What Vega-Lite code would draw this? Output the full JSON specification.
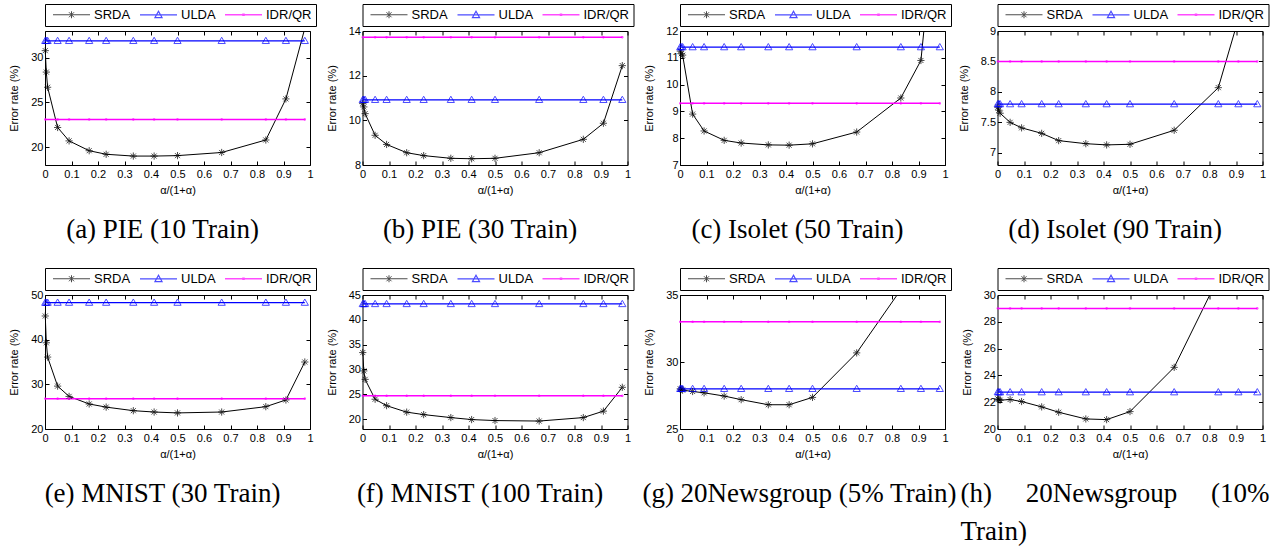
{
"$schema": "https://vega.github.io/schema/vega-lite/v6.json",
"padding": {"left": 8, "top": 3, "right": 0, "bottom": 0},
"background": "white",
"datasets": {
"A": [
{"x":0.001,"v":30.8,"s":"SRDA"},{"x":0.005,"v":28.4,"s":"SRDA"},{"x":0.0099,"v":26.7,"s":"SRDA"},{"x":0.0476,"v":22.2,"s":"SRDA"},{"x":0.0909,"v":20.7,"s":"SRDA"},{"x":0.1667,"v":19.6,"s":"SRDA"},{"x":0.2308,"v":19.2,"s":"SRDA"},{"x":0.3333,"v":19.0,"s":"SRDA"},{"x":0.4118,"v":19.0,"s":"SRDA"},{"x":0.5,"v":19.05,"s":"SRDA"},{"x":0.6667,"v":19.4,"s":"SRDA"},{"x":0.8333,"v":20.8,"s":"SRDA"},{"x":0.9091,"v":25.4,"s":"SRDA"},{"x":0.9804,"v":33.3,"s":"SRDA"},
{"x":0.001,"v":31.9,"s":"ULDA"},{"x":0.005,"v":31.9,"s":"ULDA"},{"x":0.0099,"v":31.9,"s":"ULDA"},{"x":0.0476,"v":31.9,"s":"ULDA"},{"x":0.0909,"v":31.9,"s":"ULDA"},{"x":0.1667,"v":31.9,"s":"ULDA"},{"x":0.2308,"v":31.9,"s":"ULDA"},{"x":0.3333,"v":31.9,"s":"ULDA"},{"x":0.4118,"v":31.9,"s":"ULDA"},{"x":0.5,"v":31.9,"s":"ULDA"},{"x":0.6667,"v":31.9,"s":"ULDA"},{"x":0.8333,"v":31.9,"s":"ULDA"},{"x":0.9091,"v":31.9,"s":"ULDA"},{"x":0.9804,"v":31.9,"s":"ULDA"},
{"x":0.001,"v":23.1,"s":"IDR/QR"},{"x":0.0476,"v":23.1,"s":"IDR/QR"},{"x":0.0909,"v":23.1,"s":"IDR/QR"},{"x":0.1667,"v":23.1,"s":"IDR/QR"},{"x":0.2308,"v":23.1,"s":"IDR/QR"},{"x":0.3333,"v":23.1,"s":"IDR/QR"},{"x":0.4118,"v":23.1,"s":"IDR/QR"},{"x":0.5,"v":23.1,"s":"IDR/QR"},{"x":0.6667,"v":23.1,"s":"IDR/QR"},{"x":0.8333,"v":23.1,"s":"IDR/QR"},{"x":0.9091,"v":23.1,"s":"IDR/QR"},{"x":0.9804,"v":23.1,"s":"IDR/QR"}
],
"B": [
{"x":0.001,"v":10.75,"s":"SRDA"},{"x":0.005,"v":10.6,"s":"SRDA"},{"x":0.0099,"v":10.3,"s":"SRDA"},{"x":0.0476,"v":9.33,"s":"SRDA"},{"x":0.0909,"v":8.92,"s":"SRDA"},{"x":0.1667,"v":8.55,"s":"SRDA"},{"x":0.2308,"v":8.42,"s":"SRDA"},{"x":0.3333,"v":8.3,"s":"SRDA"},{"x":0.4118,"v":8.28,"s":"SRDA"},{"x":0.5,"v":8.3,"s":"SRDA"},{"x":0.6667,"v":8.55,"s":"SRDA"},{"x":0.8333,"v":9.15,"s":"SRDA"},{"x":0.9091,"v":9.87,"s":"SRDA"},{"x":0.9804,"v":12.45,"s":"SRDA"},
{"x":0.001,"v":10.92,"s":"ULDA"},{"x":0.005,"v":10.92,"s":"ULDA"},{"x":0.0099,"v":10.92,"s":"ULDA"},{"x":0.0476,"v":10.92,"s":"ULDA"},{"x":0.0909,"v":10.92,"s":"ULDA"},{"x":0.1667,"v":10.92,"s":"ULDA"},{"x":0.2308,"v":10.92,"s":"ULDA"},{"x":0.3333,"v":10.92,"s":"ULDA"},{"x":0.4118,"v":10.92,"s":"ULDA"},{"x":0.5,"v":10.92,"s":"ULDA"},{"x":0.6667,"v":10.92,"s":"ULDA"},{"x":0.8333,"v":10.92,"s":"ULDA"},{"x":0.9091,"v":10.92,"s":"ULDA"},{"x":0.9804,"v":10.92,"s":"ULDA"},
{"x":0.001,"v":13.72,"s":"IDR/QR"},{"x":0.0476,"v":13.72,"s":"IDR/QR"},{"x":0.0909,"v":13.72,"s":"IDR/QR"},{"x":0.1667,"v":13.72,"s":"IDR/QR"},{"x":0.2308,"v":13.72,"s":"IDR/QR"},{"x":0.3333,"v":13.72,"s":"IDR/QR"},{"x":0.4118,"v":13.72,"s":"IDR/QR"},{"x":0.5,"v":13.72,"s":"IDR/QR"},{"x":0.6667,"v":13.72,"s":"IDR/QR"},{"x":0.8333,"v":13.72,"s":"IDR/QR"},{"x":0.9091,"v":13.72,"s":"IDR/QR"},{"x":0.9804,"v":13.72,"s":"IDR/QR"}
],
"C": [
{"x":0.001,"v":11.25,"s":"SRDA"},{"x":0.005,"v":11.15,"s":"SRDA"},{"x":0.0099,"v":11.1,"s":"SRDA"},{"x":0.0476,"v":8.9,"s":"SRDA"},{"x":0.0909,"v":8.27,"s":"SRDA"},{"x":0.1667,"v":7.92,"s":"SRDA"},{"x":0.2308,"v":7.82,"s":"SRDA"},{"x":0.3333,"v":7.75,"s":"SRDA"},{"x":0.4118,"v":7.74,"s":"SRDA"},{"x":0.5,"v":7.79,"s":"SRDA"},{"x":0.6667,"v":8.23,"s":"SRDA"},{"x":0.8333,"v":9.5,"s":"SRDA"},{"x":0.9091,"v":10.9,"s":"SRDA"},{"x":0.9804,"v":18.0,"s":"SRDA"},
{"x":0.001,"v":11.4,"s":"ULDA"},{"x":0.005,"v":11.4,"s":"ULDA"},{"x":0.0099,"v":11.4,"s":"ULDA"},{"x":0.0476,"v":11.4,"s":"ULDA"},{"x":0.0909,"v":11.4,"s":"ULDA"},{"x":0.1667,"v":11.4,"s":"ULDA"},{"x":0.2308,"v":11.4,"s":"ULDA"},{"x":0.3333,"v":11.4,"s":"ULDA"},{"x":0.4118,"v":11.4,"s":"ULDA"},{"x":0.5,"v":11.4,"s":"ULDA"},{"x":0.6667,"v":11.4,"s":"ULDA"},{"x":0.8333,"v":11.4,"s":"ULDA"},{"x":0.9091,"v":11.4,"s":"ULDA"},{"x":0.9804,"v":11.4,"s":"ULDA"},
{"x":0.001,"v":9.3,"s":"IDR/QR"},{"x":0.0476,"v":9.3,"s":"IDR/QR"},{"x":0.0909,"v":9.3,"s":"IDR/QR"},{"x":0.1667,"v":9.3,"s":"IDR/QR"},{"x":0.2308,"v":9.3,"s":"IDR/QR"},{"x":0.3333,"v":9.3,"s":"IDR/QR"},{"x":0.4118,"v":9.3,"s":"IDR/QR"},{"x":0.5,"v":9.3,"s":"IDR/QR"},{"x":0.6667,"v":9.3,"s":"IDR/QR"},{"x":0.8333,"v":9.3,"s":"IDR/QR"},{"x":0.9091,"v":9.3,"s":"IDR/QR"},{"x":0.9804,"v":9.3,"s":"IDR/QR"}
],
"D": [
{"x":0.001,"v":7.75,"s":"SRDA"},{"x":0.005,"v":7.7,"s":"SRDA"},{"x":0.0099,"v":7.65,"s":"SRDA"},{"x":0.0476,"v":7.5,"s":"SRDA"},{"x":0.0909,"v":7.41,"s":"SRDA"},{"x":0.1667,"v":7.32,"s":"SRDA"},{"x":0.2308,"v":7.2,"s":"SRDA"},{"x":0.3333,"v":7.15,"s":"SRDA"},{"x":0.4118,"v":7.13,"s":"SRDA"},{"x":0.5,"v":7.14,"s":"SRDA"},{"x":0.6667,"v":7.37,"s":"SRDA"},{"x":0.8333,"v":8.07,"s":"SRDA"},{"x":0.9091,"v":9.2,"s":"SRDA"},{"x":0.9804,"v":12.0,"s":"SRDA"},
{"x":0.001,"v":7.8,"s":"ULDA"},{"x":0.005,"v":7.8,"s":"ULDA"},{"x":0.0099,"v":7.8,"s":"ULDA"},{"x":0.0476,"v":7.8,"s":"ULDA"},{"x":0.0909,"v":7.8,"s":"ULDA"},{"x":0.1667,"v":7.8,"s":"ULDA"},{"x":0.2308,"v":7.8,"s":"ULDA"},{"x":0.3333,"v":7.8,"s":"ULDA"},{"x":0.4118,"v":7.8,"s":"ULDA"},{"x":0.5,"v":7.8,"s":"ULDA"},{"x":0.6667,"v":7.8,"s":"ULDA"},{"x":0.8333,"v":7.8,"s":"ULDA"},{"x":0.9091,"v":7.8,"s":"ULDA"},{"x":0.9804,"v":7.8,"s":"ULDA"},
{"x":0.001,"v":8.5,"s":"IDR/QR"},{"x":0.0476,"v":8.5,"s":"IDR/QR"},{"x":0.0909,"v":8.5,"s":"IDR/QR"},{"x":0.1667,"v":8.5,"s":"IDR/QR"},{"x":0.2308,"v":8.5,"s":"IDR/QR"},{"x":0.3333,"v":8.5,"s":"IDR/QR"},{"x":0.4118,"v":8.5,"s":"IDR/QR"},{"x":0.5,"v":8.5,"s":"IDR/QR"},{"x":0.6667,"v":8.5,"s":"IDR/QR"},{"x":0.8333,"v":8.5,"s":"IDR/QR"},{"x":0.9091,"v":8.5,"s":"IDR/QR"},{"x":0.9804,"v":8.5,"s":"IDR/QR"}
],
"E": [
{"x":0.001,"v":45.3,"s":"SRDA"},{"x":0.005,"v":39.3,"s":"SRDA"},{"x":0.0099,"v":36.1,"s":"SRDA"},{"x":0.0476,"v":29.6,"s":"SRDA"},{"x":0.0909,"v":27.3,"s":"SRDA"},{"x":0.1667,"v":25.6,"s":"SRDA"},{"x":0.2308,"v":24.9,"s":"SRDA"},{"x":0.3333,"v":24.1,"s":"SRDA"},{"x":0.4118,"v":23.8,"s":"SRDA"},{"x":0.5,"v":23.6,"s":"SRDA"},{"x":0.6667,"v":23.8,"s":"SRDA"},{"x":0.8333,"v":25.0,"s":"SRDA"},{"x":0.9091,"v":26.5,"s":"SRDA"},{"x":0.9804,"v":35.0,"s":"SRDA"},
{"x":0.001,"v":48.3,"s":"ULDA"},{"x":0.005,"v":48.3,"s":"ULDA"},{"x":0.0099,"v":48.3,"s":"ULDA"},{"x":0.0476,"v":48.3,"s":"ULDA"},{"x":0.0909,"v":48.3,"s":"ULDA"},{"x":0.1667,"v":48.3,"s":"ULDA"},{"x":0.2308,"v":48.3,"s":"ULDA"},{"x":0.3333,"v":48.3,"s":"ULDA"},{"x":0.4118,"v":48.3,"s":"ULDA"},{"x":0.5,"v":48.3,"s":"ULDA"},{"x":0.6667,"v":48.3,"s":"ULDA"},{"x":0.8333,"v":48.3,"s":"ULDA"},{"x":0.9091,"v":48.3,"s":"ULDA"},{"x":0.9804,"v":48.3,"s":"ULDA"},
{"x":0.001,"v":26.8,"s":"IDR/QR"},{"x":0.0476,"v":26.8,"s":"IDR/QR"},{"x":0.0909,"v":26.8,"s":"IDR/QR"},{"x":0.1667,"v":26.8,"s":"IDR/QR"},{"x":0.2308,"v":26.8,"s":"IDR/QR"},{"x":0.3333,"v":26.8,"s":"IDR/QR"},{"x":0.4118,"v":26.8,"s":"IDR/QR"},{"x":0.5,"v":26.8,"s":"IDR/QR"},{"x":0.6667,"v":26.8,"s":"IDR/QR"},{"x":0.8333,"v":26.8,"s":"IDR/QR"},{"x":0.9091,"v":26.8,"s":"IDR/QR"},{"x":0.9804,"v":26.8,"s":"IDR/QR"}
],
"F": [
{"x":0.001,"v":33.4,"s":"SRDA"},{"x":0.005,"v":29.7,"s":"SRDA"},{"x":0.0099,"v":28.0,"s":"SRDA"},{"x":0.0476,"v":24.0,"s":"SRDA"},{"x":0.0909,"v":22.7,"s":"SRDA"},{"x":0.1667,"v":21.4,"s":"SRDA"},{"x":0.2308,"v":20.9,"s":"SRDA"},{"x":0.3333,"v":20.3,"s":"SRDA"},{"x":0.4118,"v":19.9,"s":"SRDA"},{"x":0.5,"v":19.7,"s":"SRDA"},{"x":0.6667,"v":19.6,"s":"SRDA"},{"x":0.8333,"v":20.3,"s":"SRDA"},{"x":0.9091,"v":21.6,"s":"SRDA"},{"x":0.9804,"v":26.4,"s":"SRDA"},
{"x":0.001,"v":43.2,"s":"ULDA"},{"x":0.005,"v":43.2,"s":"ULDA"},{"x":0.0099,"v":43.2,"s":"ULDA"},{"x":0.0476,"v":43.2,"s":"ULDA"},{"x":0.0909,"v":43.2,"s":"ULDA"},{"x":0.1667,"v":43.2,"s":"ULDA"},{"x":0.2308,"v":43.2,"s":"ULDA"},{"x":0.3333,"v":43.2,"s":"ULDA"},{"x":0.4118,"v":43.2,"s":"ULDA"},{"x":0.5,"v":43.2,"s":"ULDA"},{"x":0.6667,"v":43.2,"s":"ULDA"},{"x":0.8333,"v":43.2,"s":"ULDA"},{"x":0.9091,"v":43.2,"s":"ULDA"},{"x":0.9804,"v":43.2,"s":"ULDA"},
{"x":0.001,"v":24.7,"s":"IDR/QR"},{"x":0.0476,"v":24.7,"s":"IDR/QR"},{"x":0.0909,"v":24.7,"s":"IDR/QR"},{"x":0.1667,"v":24.7,"s":"IDR/QR"},{"x":0.2308,"v":24.7,"s":"IDR/QR"},{"x":0.3333,"v":24.7,"s":"IDR/QR"},{"x":0.4118,"v":24.7,"s":"IDR/QR"},{"x":0.5,"v":24.7,"s":"IDR/QR"},{"x":0.6667,"v":24.7,"s":"IDR/QR"},{"x":0.8333,"v":24.7,"s":"IDR/QR"},{"x":0.9091,"v":24.7,"s":"IDR/QR"},{"x":0.9804,"v":24.7,"s":"IDR/QR"}
],
"G": [
{"x":0.001,"v":28.0,"s":"SRDA"},{"x":0.005,"v":27.95,"s":"SRDA"},{"x":0.0099,"v":27.9,"s":"SRDA"},{"x":0.0476,"v":27.8,"s":"SRDA"},{"x":0.0909,"v":27.7,"s":"SRDA"},{"x":0.1667,"v":27.46,"s":"SRDA"},{"x":0.2308,"v":27.19,"s":"SRDA"},{"x":0.3333,"v":26.81,"s":"SRDA"},{"x":0.4118,"v":26.81,"s":"SRDA"},{"x":0.5,"v":27.36,"s":"SRDA"},{"x":0.6667,"v":30.68,"s":"SRDA"},{"x":0.8333,"v":35.4,"s":"SRDA"},{"x":0.9091,"v":38.0,"s":"SRDA"},{"x":0.9804,"v":41.0,"s":"SRDA"},
{"x":0.001,"v":28.0,"s":"ULDA"},{"x":0.005,"v":28.0,"s":"ULDA"},{"x":0.0099,"v":28.0,"s":"ULDA"},{"x":0.0476,"v":28.0,"s":"ULDA"},{"x":0.0909,"v":28.0,"s":"ULDA"},{"x":0.1667,"v":28.0,"s":"ULDA"},{"x":0.2308,"v":28.0,"s":"ULDA"},{"x":0.3333,"v":28.0,"s":"ULDA"},{"x":0.4118,"v":28.0,"s":"ULDA"},{"x":0.5,"v":28.0,"s":"ULDA"},{"x":0.6667,"v":28.0,"s":"ULDA"},{"x":0.8333,"v":28.0,"s":"ULDA"},{"x":0.9091,"v":28.0,"s":"ULDA"},{"x":0.9804,"v":28.0,"s":"ULDA"},
{"x":0.001,"v":33.0,"s":"IDR/QR"},{"x":0.0476,"v":33.0,"s":"IDR/QR"},{"x":0.0909,"v":33.0,"s":"IDR/QR"},{"x":0.1667,"v":33.0,"s":"IDR/QR"},{"x":0.2308,"v":33.0,"s":"IDR/QR"},{"x":0.3333,"v":33.0,"s":"IDR/QR"},{"x":0.4118,"v":33.0,"s":"IDR/QR"},{"x":0.5,"v":33.0,"s":"IDR/QR"},{"x":0.6667,"v":33.0,"s":"IDR/QR"},{"x":0.8333,"v":33.0,"s":"IDR/QR"},{"x":0.9091,"v":33.0,"s":"IDR/QR"},{"x":0.9804,"v":33.0,"s":"IDR/QR"}
],
"H": [
{"x":0.001,"v":22.25,"s":"SRDA"},{"x":0.005,"v":22.2,"s":"SRDA"},{"x":0.0099,"v":22.15,"s":"SRDA"},{"x":0.0476,"v":22.2,"s":"SRDA"},{"x":0.0909,"v":22.05,"s":"SRDA"},{"x":0.1667,"v":21.65,"s":"SRDA"},{"x":0.2308,"v":21.25,"s":"SRDA"},{"x":0.3333,"v":20.75,"s":"SRDA"},{"x":0.4118,"v":20.7,"s":"SRDA"},{"x":0.5,"v":21.3,"s":"SRDA"},{"x":0.6667,"v":24.6,"s":"SRDA"},{"x":0.8333,"v":31.3,"s":"SRDA"},{"x":0.9091,"v":34.0,"s":"SRDA"},{"x":0.9804,"v":37.0,"s":"SRDA"},
{"x":0.001,"v":22.75,"s":"ULDA"},{"x":0.005,"v":22.75,"s":"ULDA"},{"x":0.0099,"v":22.75,"s":"ULDA"},{"x":0.0476,"v":22.75,"s":"ULDA"},{"x":0.0909,"v":22.75,"s":"ULDA"},{"x":0.1667,"v":22.75,"s":"ULDA"},{"x":0.2308,"v":22.75,"s":"ULDA"},{"x":0.3333,"v":22.75,"s":"ULDA"},{"x":0.4118,"v":22.75,"s":"ULDA"},{"x":0.5,"v":22.75,"s":"ULDA"},{"x":0.6667,"v":22.75,"s":"ULDA"},{"x":0.8333,"v":22.75,"s":"ULDA"},{"x":0.9091,"v":22.75,"s":"ULDA"},{"x":0.9804,"v":22.75,"s":"ULDA"},
{"x":0.001,"v":29.0,"s":"IDR/QR"},{"x":0.0476,"v":29.0,"s":"IDR/QR"},{"x":0.0909,"v":29.0,"s":"IDR/QR"},{"x":0.1667,"v":29.0,"s":"IDR/QR"},{"x":0.2308,"v":29.0,"s":"IDR/QR"},{"x":0.3333,"v":29.0,"s":"IDR/QR"},{"x":0.4118,"v":29.0,"s":"IDR/QR"},{"x":0.5,"v":29.0,"s":"IDR/QR"},{"x":0.6667,"v":29.0,"s":"IDR/QR"},{"x":0.8333,"v":29.0,"s":"IDR/QR"},{"x":0.9091,"v":29.0,"s":"IDR/QR"},{"x":0.9804,"v":29.0,"s":"IDR/QR"}
]
},
"config": {
  "view": {"stroke": "black", "strokeWidth": 1},
  "axis": {"grid": false, "domain": false, "ticks": true, "tickColor": "black", "tickSize": -4, "labelFont": "Liberation Sans", "labelFontSize": 11, "labelColor": "black", "labelFlush": false, "labelOverlap": false, "titleFont": "Liberation Sans", "titleFontSize": 11, "titleFontWeight": "normal", "titleColor": "black"},
  "axisX": {"labelPadding": 7, "titlePadding": 5},
  "axisY": {"labelPadding": 6, "titlePadding": 11},
  "title": {"font": "Liberation Serif", "fontSize": 27, "fontWeight": "normal", "color": "black", "orient": "bottom", "offset": 22, "anchor": "middle", "frame": "group", "dx": -15},
  "legend": {"orient": "none", "legendX": 0, "legendY": -27, "direction": "horizontal", "strokeColor": "black", "fillColor": "white", "padding": 4, "symbolSize": 100, "symbolStrokeWidth": 1.2, "symbolOffset": 16, "labelOffset": 16, "columnPadding": 5, "labelFont": "Liberation Sans", "labelFontSize": 13, "labelColor": "black"}
},
"columns": 4,
"spacing": {"row": 130, "column": 52.5},
"bounds": "flush",
"resolve": {"scale": {"color": "independent", "shape": "independent", "strokeWidth": "independent"}, "legend": {"color": "independent", "shape": "independent"}},
"concat": [
{"width": 265, "height": 134, "data": {"name": "A"}, "title": {"text": "(a) PIE (10 Train)"},
 "layer": [
  {"mark": {"type": "line", "clip": true},
   "encoding": {
    "x": {"field": "x", "type": "quantitative", "scale": {"domain": [0, 1], "nice": false}, "axis": {"orient": "bottom", "values": [0,0.1,0.2,0.3,0.4,0.5,0.6,0.7,0.8,0.9,1], "format": ".1~f", "title": "α/(1+α)"}},
    "y": {"field": "v", "type": "quantitative", "scale": {"domain": [18, 33], "nice": false, "zero": false}, "axis": {"orient": "left", "values": [20,25,30], "format": ".1~f", "title": "Error rate (%)"}},
    "color": {"field": "s", "type": "nominal", "scale": {"domain": ["SRDA","ULDA","IDR/QR"], "range": ["#000000","#0000ff","#ff00ff"]}, "legend": {"title": null}},
    "strokeWidth": {"field": "s", "type": "ordinal", "scale": {"domain": ["SRDA","ULDA","IDR/QR"], "range": [1, 1.5, 1.5]}, "legend": null}
   }},
  {"transform": [{"filter": "datum.s === 'SRDA' && datum.v >= 18 && datum.v <= 33"}],
   "mark": {"type": "point", "shape": "M-1,0L1,0M0,-1L0,1M-0.7,-0.7L0.7,0.7M-0.7,0.7L0.7,-0.7", "color": "#000000", "filled": false, "size": 52, "strokeWidth": 1},
   "encoding": {"x": {"field": "x", "type": "quantitative", "axis": {"orient": "top", "values": [0,0.1,0.2,0.3,0.4,0.5,0.6,0.7,0.8,0.9,1], "labels": false, "title": null}}, "y": {"field": "v", "type": "quantitative", "axis": {"orient": "right", "values": [20,25,30], "labels": false, "title": null}}}},
  {"transform": [{"filter": "datum.s === 'ULDA'"}],
   "mark": {"type": "point", "shape": "M0,-1L1,0.75L-1,0.75Z", "color": "#0000ff", "filled": false, "size": 52, "strokeWidth": 1},
   "encoding": {"x": {"field": "x", "type": "quantitative", "axis": null}, "y": {"field": "v", "type": "quantitative", "axis": null}}},
  {"transform": [{"filter": "datum.s === 'IDR/QR'"}],
   "mark": {"type": "point", "shape": "M-0.2,-0.2L0.2,-0.2L0.2,0.2L-0.2,0.2Z", "color": "#ff00ff", "filled": false, "size": 52, "strokeWidth": 1},
   "encoding": {"x": {"field": "x", "type": "quantitative", "axis": null}, "y": {"field": "v", "type": "quantitative", "axis": null}}},
  {"transform": [{"filter": "false"}],
   "mark": {"type": "point", "filled": false},
   "encoding": {"x": {"field": "x", "type": "quantitative", "axis": null}, "y": {"field": "v", "type": "quantitative", "axis": null},
    "color": {"field": "s", "type": "nominal", "legend": {"title": null}},
    "shape": {"field": "s", "type": "nominal", "scale": {"domain": ["SRDA","ULDA","IDR/QR"], "range": ["M-3.7,0L3.7,0M0,-0.7L0,0.7M-0.5,-0.5L0.5,0.5M-0.5,0.5L0.5,-0.5", "M-3.7,0L3.7,0M0,-0.7L0.7,0.55L-0.7,0.55Z", "M-3.7,0L3.7,0M-0.1,-0.1L0.1,-0.1L0.1,0.1L-0.1,0.1Z"]}, "legend": {"title": null}}}}
 ],
 "resolve": {"axis": {"x": "independent", "y": "independent"}}
},
{"width": 265, "height": 134, "data": {"name": "B"}, "title": {"text": "(b) PIE (30 Train)"},
 "layer": [
  {"mark": {"type": "line", "clip": true},
   "encoding": {
    "x": {"field": "x", "type": "quantitative", "scale": {"domain": [0, 1], "nice": false}, "axis": {"orient": "bottom", "values": [0,0.1,0.2,0.3,0.4,0.5,0.6,0.7,0.8,0.9,1], "format": ".1~f", "title": "α/(1+α)"}},
    "y": {"field": "v", "type": "quantitative", "scale": {"domain": [8, 14], "nice": false, "zero": false}, "axis": {"orient": "left", "values": [8,10,12,14], "format": ".1~f", "title": "Error rate (%)"}},
    "color": {"field": "s", "type": "nominal", "scale": {"domain": ["SRDA","ULDA","IDR/QR"], "range": ["#000000","#0000ff","#ff00ff"]}, "legend": {"title": null}},
    "strokeWidth": {"field": "s", "type": "ordinal", "scale": {"domain": ["SRDA","ULDA","IDR/QR"], "range": [1, 1.5, 1.5]}, "legend": null}
   }},
  {"transform": [{"filter": "datum.s === 'SRDA' && datum.v >= 8 && datum.v <= 14"}],
   "mark": {"type": "point", "shape": "M-1,0L1,0M0,-1L0,1M-0.7,-0.7L0.7,0.7M-0.7,0.7L0.7,-0.7", "color": "#000000", "filled": false, "size": 52, "strokeWidth": 1},
   "encoding": {"x": {"field": "x", "type": "quantitative", "axis": {"orient": "top", "values": [0,0.1,0.2,0.3,0.4,0.5,0.6,0.7,0.8,0.9,1], "labels": false, "title": null}}, "y": {"field": "v", "type": "quantitative", "axis": {"orient": "right", "values": [8,10,12,14], "labels": false, "title": null}}}},
  {"transform": [{"filter": "datum.s === 'ULDA'"}],
   "mark": {"type": "point", "shape": "M0,-1L1,0.75L-1,0.75Z", "color": "#0000ff", "filled": false, "size": 52, "strokeWidth": 1},
   "encoding": {"x": {"field": "x", "type": "quantitative", "axis": null}, "y": {"field": "v", "type": "quantitative", "axis": null}}},
  {"transform": [{"filter": "datum.s === 'IDR/QR'"}],
   "mark": {"type": "point", "shape": "M-0.2,-0.2L0.2,-0.2L0.2,0.2L-0.2,0.2Z", "color": "#ff00ff", "filled": false, "size": 52, "strokeWidth": 1},
   "encoding": {"x": {"field": "x", "type": "quantitative", "axis": null}, "y": {"field": "v", "type": "quantitative", "axis": null}}},
  {"transform": [{"filter": "false"}],
   "mark": {"type": "point", "filled": false},
   "encoding": {"x": {"field": "x", "type": "quantitative", "axis": null}, "y": {"field": "v", "type": "quantitative", "axis": null},
    "color": {"field": "s", "type": "nominal", "legend": {"title": null}},
    "shape": {"field": "s", "type": "nominal", "scale": {"domain": ["SRDA","ULDA","IDR/QR"], "range": ["M-3.7,0L3.7,0M0,-0.7L0,0.7M-0.5,-0.5L0.5,0.5M-0.5,0.5L0.5,-0.5", "M-3.7,0L3.7,0M0,-0.7L0.7,0.55L-0.7,0.55Z", "M-3.7,0L3.7,0M-0.1,-0.1L0.1,-0.1L0.1,0.1L-0.1,0.1Z"]}, "legend": {"title": null}}}}
 ],
 "resolve": {"axis": {"x": "independent", "y": "independent"}}
},
{"width": 265, "height": 134, "data": {"name": "C"}, "title": {"text": "(c) Isolet (50 Train)"},
 "layer": [
  {"mark": {"type": "line", "clip": true},
   "encoding": {
    "x": {"field": "x", "type": "quantitative", "scale": {"domain": [0, 1], "nice": false}, "axis": {"orient": "bottom", "values": [0,0.1,0.2,0.3,0.4,0.5,0.6,0.7,0.8,0.9,1], "format": ".1~f", "title": "α/(1+α)"}},
    "y": {"field": "v", "type": "quantitative", "scale": {"domain": [7, 12], "nice": false, "zero": false}, "axis": {"orient": "left", "values": [7,8,9,10,11,12], "format": ".1~f", "title": "Error rate (%)"}},
    "color": {"field": "s", "type": "nominal", "scale": {"domain": ["SRDA","ULDA","IDR/QR"], "range": ["#000000","#0000ff","#ff00ff"]}, "legend": {"title": null}},
    "strokeWidth": {"field": "s", "type": "ordinal", "scale": {"domain": ["SRDA","ULDA","IDR/QR"], "range": [1, 1.5, 1.5]}, "legend": null}
   }},
  {"transform": [{"filter": "datum.s === 'SRDA' && datum.v >= 7 && datum.v <= 12"}],
   "mark": {"type": "point", "shape": "M-1,0L1,0M0,-1L0,1M-0.7,-0.7L0.7,0.7M-0.7,0.7L0.7,-0.7", "color": "#000000", "filled": false, "size": 52, "strokeWidth": 1},
   "encoding": {"x": {"field": "x", "type": "quantitative", "axis": {"orient": "top", "values": [0,0.1,0.2,0.3,0.4,0.5,0.6,0.7,0.8,0.9,1], "labels": false, "title": null}}, "y": {"field": "v", "type": "quantitative", "axis": {"orient": "right", "values": [7,8,9,10,11,12], "labels": false, "title": null}}}},
  {"transform": [{"filter": "datum.s === 'ULDA'"}],
   "mark": {"type": "point", "shape": "M0,-1L1,0.75L-1,0.75Z", "color": "#0000ff", "filled": false, "size": 52, "strokeWidth": 1},
   "encoding": {"x": {"field": "x", "type": "quantitative", "axis": null}, "y": {"field": "v", "type": "quantitative", "axis": null}}},
  {"transform": [{"filter": "datum.s === 'IDR/QR'"}],
   "mark": {"type": "point", "shape": "M-0.2,-0.2L0.2,-0.2L0.2,0.2L-0.2,0.2Z", "color": "#ff00ff", "filled": false, "size": 52, "strokeWidth": 1},
   "encoding": {"x": {"field": "x", "type": "quantitative", "axis": null}, "y": {"field": "v", "type": "quantitative", "axis": null}}},
  {"transform": [{"filter": "false"}],
   "mark": {"type": "point", "filled": false},
   "encoding": {"x": {"field": "x", "type": "quantitative", "axis": null}, "y": {"field": "v", "type": "quantitative", "axis": null},
    "color": {"field": "s", "type": "nominal", "legend": {"title": null}},
    "shape": {"field": "s", "type": "nominal", "scale": {"domain": ["SRDA","ULDA","IDR/QR"], "range": ["M-3.7,0L3.7,0M0,-0.7L0,0.7M-0.5,-0.5L0.5,0.5M-0.5,0.5L0.5,-0.5", "M-3.7,0L3.7,0M0,-0.7L0.7,0.55L-0.7,0.55Z", "M-3.7,0L3.7,0M-0.1,-0.1L0.1,-0.1L0.1,0.1L-0.1,0.1Z"]}, "legend": {"title": null}}}}
 ],
 "resolve": {"axis": {"x": "independent", "y": "independent"}}
},
{"width": 265, "height": 134, "data": {"name": "D"}, "title": {"text": "(d) Isolet (90 Train)"},
 "layer": [
  {"mark": {"type": "line", "clip": true},
   "encoding": {
    "x": {"field": "x", "type": "quantitative", "scale": {"domain": [0, 1], "nice": false}, "axis": {"orient": "bottom", "values": [0,0.1,0.2,0.3,0.4,0.5,0.6,0.7,0.8,0.9,1], "format": ".1~f", "title": "α/(1+α)"}},
    "y": {"field": "v", "type": "quantitative", "scale": {"domain": [6.8, 9], "nice": false, "zero": false}, "axis": {"orient": "left", "values": [7,7.5,8,8.5,9], "format": ".1~f", "title": "Error rate (%)"}},
    "color": {"field": "s", "type": "nominal", "scale": {"domain": ["SRDA","ULDA","IDR/QR"], "range": ["#000000","#0000ff","#ff00ff"]}, "legend": {"title": null}},
    "strokeWidth": {"field": "s", "type": "ordinal", "scale": {"domain": ["SRDA","ULDA","IDR/QR"], "range": [1, 1.5, 1.5]}, "legend": null}
   }},
  {"transform": [{"filter": "datum.s === 'SRDA' && datum.v >= 6.8 && datum.v <= 9"}],
   "mark": {"type": "point", "shape": "M-1,0L1,0M0,-1L0,1M-0.7,-0.7L0.7,0.7M-0.7,0.7L0.7,-0.7", "color": "#000000", "filled": false, "size": 52, "strokeWidth": 1},
   "encoding": {"x": {"field": "x", "type": "quantitative", "axis": {"orient": "top", "values": [0,0.1,0.2,0.3,0.4,0.5,0.6,0.7,0.8,0.9,1], "labels": false, "title": null}}, "y": {"field": "v", "type": "quantitative", "axis": {"orient": "right", "values": [7,7.5,8,8.5,9], "labels": false, "title": null}}}},
  {"transform": [{"filter": "datum.s === 'ULDA'"}],
   "mark": {"type": "point", "shape": "M0,-1L1,0.75L-1,0.75Z", "color": "#0000ff", "filled": false, "size": 52, "strokeWidth": 1},
   "encoding": {"x": {"field": "x", "type": "quantitative", "axis": null}, "y": {"field": "v", "type": "quantitative", "axis": null}}},
  {"transform": [{"filter": "datum.s === 'IDR/QR'"}],
   "mark": {"type": "point", "shape": "M-0.2,-0.2L0.2,-0.2L0.2,0.2L-0.2,0.2Z", "color": "#ff00ff", "filled": false, "size": 52, "strokeWidth": 1},
   "encoding": {"x": {"field": "x", "type": "quantitative", "axis": null}, "y": {"field": "v", "type": "quantitative", "axis": null}}},
  {"transform": [{"filter": "false"}],
   "mark": {"type": "point", "filled": false},
   "encoding": {"x": {"field": "x", "type": "quantitative", "axis": null}, "y": {"field": "v", "type": "quantitative", "axis": null},
    "color": {"field": "s", "type": "nominal", "legend": {"title": null}},
    "shape": {"field": "s", "type": "nominal", "scale": {"domain": ["SRDA","ULDA","IDR/QR"], "range": ["M-3.7,0L3.7,0M0,-0.7L0,0.7M-0.5,-0.5L0.5,0.5M-0.5,0.5L0.5,-0.5", "M-3.7,0L3.7,0M0,-0.7L0.7,0.55L-0.7,0.55Z", "M-3.7,0L3.7,0M-0.1,-0.1L0.1,-0.1L0.1,0.1L-0.1,0.1Z"]}, "legend": {"title": null}}}}
 ],
 "resolve": {"axis": {"x": "independent", "y": "independent"}}
},
{"width": 265, "height": 134, "data": {"name": "E"}, "title": {"text": "(e) MNIST (30 Train)"},
 "layer": [
  {"mark": {"type": "line", "clip": true},
   "encoding": {
    "x": {"field": "x", "type": "quantitative", "scale": {"domain": [0, 1], "nice": false}, "axis": {"orient": "bottom", "values": [0,0.1,0.2,0.3,0.4,0.5,0.6,0.7,0.8,0.9,1], "format": ".1~f", "title": "α/(1+α)"}},
    "y": {"field": "v", "type": "quantitative", "scale": {"domain": [20, 50], "nice": false, "zero": false}, "axis": {"orient": "left", "values": [20,30,40,50], "format": ".1~f", "title": "Error rate (%)"}},
    "color": {"field": "s", "type": "nominal", "scale": {"domain": ["SRDA","ULDA","IDR/QR"], "range": ["#000000","#0000ff","#ff00ff"]}, "legend": {"title": null}},
    "strokeWidth": {"field": "s", "type": "ordinal", "scale": {"domain": ["SRDA","ULDA","IDR/QR"], "range": [1, 1.5, 1.5]}, "legend": null}
   }},
  {"transform": [{"filter": "datum.s === 'SRDA' && datum.v >= 20 && datum.v <= 50"}],
   "mark": {"type": "point", "shape": "M-1,0L1,0M0,-1L0,1M-0.7,-0.7L0.7,0.7M-0.7,0.7L0.7,-0.7", "color": "#000000", "filled": false, "size": 52, "strokeWidth": 1},
   "encoding": {"x": {"field": "x", "type": "quantitative", "axis": {"orient": "top", "values": [0,0.1,0.2,0.3,0.4,0.5,0.6,0.7,0.8,0.9,1], "labels": false, "title": null}}, "y": {"field": "v", "type": "quantitative", "axis": {"orient": "right", "values": [20,30,40,50], "labels": false, "title": null}}}},
  {"transform": [{"filter": "datum.s === 'ULDA'"}],
   "mark": {"type": "point", "shape": "M0,-1L1,0.75L-1,0.75Z", "color": "#0000ff", "filled": false, "size": 52, "strokeWidth": 1},
   "encoding": {"x": {"field": "x", "type": "quantitative", "axis": null}, "y": {"field": "v", "type": "quantitative", "axis": null}}},
  {"transform": [{"filter": "datum.s === 'IDR/QR'"}],
   "mark": {"type": "point", "shape": "M-0.2,-0.2L0.2,-0.2L0.2,0.2L-0.2,0.2Z", "color": "#ff00ff", "filled": false, "size": 52, "strokeWidth": 1},
   "encoding": {"x": {"field": "x", "type": "quantitative", "axis": null}, "y": {"field": "v", "type": "quantitative", "axis": null}}},
  {"transform": [{"filter": "false"}],
   "mark": {"type": "point", "filled": false},
   "encoding": {"x": {"field": "x", "type": "quantitative", "axis": null}, "y": {"field": "v", "type": "quantitative", "axis": null},
    "color": {"field": "s", "type": "nominal", "legend": {"title": null}},
    "shape": {"field": "s", "type": "nominal", "scale": {"domain": ["SRDA","ULDA","IDR/QR"], "range": ["M-3.7,0L3.7,0M0,-0.7L0,0.7M-0.5,-0.5L0.5,0.5M-0.5,0.5L0.5,-0.5", "M-3.7,0L3.7,0M0,-0.7L0.7,0.55L-0.7,0.55Z", "M-3.7,0L3.7,0M-0.1,-0.1L0.1,-0.1L0.1,0.1L-0.1,0.1Z"]}, "legend": {"title": null}}}}
 ],
 "resolve": {"axis": {"x": "independent", "y": "independent"}}
},
{"width": 265, "height": 134, "data": {"name": "F"}, "title": {"text": "(f) MNIST (100 Train)"},
 "layer": [
  {"mark": {"type": "line", "clip": true},
   "encoding": {
    "x": {"field": "x", "type": "quantitative", "scale": {"domain": [0, 1], "nice": false}, "axis": {"orient": "bottom", "values": [0,0.1,0.2,0.3,0.4,0.5,0.6,0.7,0.8,0.9,1], "format": ".1~f", "title": "α/(1+α)"}},
    "y": {"field": "v", "type": "quantitative", "scale": {"domain": [18, 45], "nice": false, "zero": false}, "axis": {"orient": "left", "values": [20,25,30,35,40,45], "format": ".1~f", "title": "Error rate (%)"}},
    "color": {"field": "s", "type": "nominal", "scale": {"domain": ["SRDA","ULDA","IDR/QR"], "range": ["#000000","#0000ff","#ff00ff"]}, "legend": {"title": null}},
    "strokeWidth": {"field": "s", "type": "ordinal", "scale": {"domain": ["SRDA","ULDA","IDR/QR"], "range": [1, 1.5, 1.5]}, "legend": null}
   }},
  {"transform": [{"filter": "datum.s === 'SRDA' && datum.v >= 18 && datum.v <= 45"}],
   "mark": {"type": "point", "shape": "M-1,0L1,0M0,-1L0,1M-0.7,-0.7L0.7,0.7M-0.7,0.7L0.7,-0.7", "color": "#000000", "filled": false, "size": 52, "strokeWidth": 1},
   "encoding": {"x": {"field": "x", "type": "quantitative", "axis": {"orient": "top", "values": [0,0.1,0.2,0.3,0.4,0.5,0.6,0.7,0.8,0.9,1], "labels": false, "title": null}}, "y": {"field": "v", "type": "quantitative", "axis": {"orient": "right", "values": [20,25,30,35,40,45], "labels": false, "title": null}}}},
  {"transform": [{"filter": "datum.s === 'ULDA'"}],
   "mark": {"type": "point", "shape": "M0,-1L1,0.75L-1,0.75Z", "color": "#0000ff", "filled": false, "size": 52, "strokeWidth": 1},
   "encoding": {"x": {"field": "x", "type": "quantitative", "axis": null}, "y": {"field": "v", "type": "quantitative", "axis": null}}},
  {"transform": [{"filter": "datum.s === 'IDR/QR'"}],
   "mark": {"type": "point", "shape": "M-0.2,-0.2L0.2,-0.2L0.2,0.2L-0.2,0.2Z", "color": "#ff00ff", "filled": false, "size": 52, "strokeWidth": 1},
   "encoding": {"x": {"field": "x", "type": "quantitative", "axis": null}, "y": {"field": "v", "type": "quantitative", "axis": null}}},
  {"transform": [{"filter": "false"}],
   "mark": {"type": "point", "filled": false},
   "encoding": {"x": {"field": "x", "type": "quantitative", "axis": null}, "y": {"field": "v", "type": "quantitative", "axis": null},
    "color": {"field": "s", "type": "nominal", "legend": {"title": null}},
    "shape": {"field": "s", "type": "nominal", "scale": {"domain": ["SRDA","ULDA","IDR/QR"], "range": ["M-3.7,0L3.7,0M0,-0.7L0,0.7M-0.5,-0.5L0.5,0.5M-0.5,0.5L0.5,-0.5", "M-3.7,0L3.7,0M0,-0.7L0.7,0.55L-0.7,0.55Z", "M-3.7,0L3.7,0M-0.1,-0.1L0.1,-0.1L0.1,0.1L-0.1,0.1Z"]}, "legend": {"title": null}}}}
 ],
 "resolve": {"axis": {"x": "independent", "y": "independent"}}
},
{"width": 265, "height": 134, "data": {"name": "G"}, "title": {"text": "(g) 20Newsgroup (5% Train)", "dx": -13},
 "layer": [
  {"mark": {"type": "line", "clip": true},
   "encoding": {
    "x": {"field": "x", "type": "quantitative", "scale": {"domain": [0, 1], "nice": false}, "axis": {"orient": "bottom", "values": [0,0.1,0.2,0.3,0.4,0.5,0.6,0.7,0.8,0.9,1], "format": ".1~f", "title": "α/(1+α)"}},
    "y": {"field": "v", "type": "quantitative", "scale": {"domain": [25, 35], "nice": false, "zero": false}, "axis": {"orient": "left", "values": [25,30,35], "format": ".1~f", "title": "Error rate (%)"}},
    "color": {"field": "s", "type": "nominal", "scale": {"domain": ["SRDA","ULDA","IDR/QR"], "range": ["#000000","#0000ff","#ff00ff"]}, "legend": {"title": null}},
    "strokeWidth": {"field": "s", "type": "ordinal", "scale": {"domain": ["SRDA","ULDA","IDR/QR"], "range": [1, 1.5, 1.5]}, "legend": null}
   }},
  {"transform": [{"filter": "datum.s === 'SRDA' && datum.v >= 25 && datum.v <= 35"}],
   "mark": {"type": "point", "shape": "M-1,0L1,0M0,-1L0,1M-0.7,-0.7L0.7,0.7M-0.7,0.7L0.7,-0.7", "color": "#000000", "filled": false, "size": 52, "strokeWidth": 1},
   "encoding": {"x": {"field": "x", "type": "quantitative", "axis": {"orient": "top", "values": [0,0.1,0.2,0.3,0.4,0.5,0.6,0.7,0.8,0.9,1], "labels": false, "title": null}}, "y": {"field": "v", "type": "quantitative", "axis": {"orient": "right", "values": [25,30,35], "labels": false, "title": null}}}},
  {"transform": [{"filter": "datum.s === 'ULDA'"}],
   "mark": {"type": "point", "shape": "M0,-1L1,0.75L-1,0.75Z", "color": "#0000ff", "filled": false, "size": 52, "strokeWidth": 1},
   "encoding": {"x": {"field": "x", "type": "quantitative", "axis": null}, "y": {"field": "v", "type": "quantitative", "axis": null}}},
  {"transform": [{"filter": "datum.s === 'IDR/QR'"}],
   "mark": {"type": "point", "shape": "M-0.2,-0.2L0.2,-0.2L0.2,0.2L-0.2,0.2Z", "color": "#ff00ff", "filled": false, "size": 52, "strokeWidth": 1},
   "encoding": {"x": {"field": "x", "type": "quantitative", "axis": null}, "y": {"field": "v", "type": "quantitative", "axis": null}}},
  {"transform": [{"filter": "false"}],
   "mark": {"type": "point", "filled": false},
   "encoding": {"x": {"field": "x", "type": "quantitative", "axis": null}, "y": {"field": "v", "type": "quantitative", "axis": null},
    "color": {"field": "s", "type": "nominal", "legend": {"title": null}},
    "shape": {"field": "s", "type": "nominal", "scale": {"domain": ["SRDA","ULDA","IDR/QR"], "range": ["M-3.7,0L3.7,0M0,-0.7L0,0.7M-0.5,-0.5L0.5,0.5M-0.5,0.5L0.5,-0.5", "M-3.7,0L3.7,0M0,-0.7L0.7,0.55L-0.7,0.55Z", "M-3.7,0L3.7,0M-0.1,-0.1L0.1,-0.1L0.1,0.1L-0.1,0.1Z"]}, "legend": {"title": null}}}}
 ],
 "resolve": {"axis": {"x": "independent", "y": "independent"}}
},
{"width": 265, "height": 134, "data": {"name": "H"}, "title": {"text": ["(h)\u2003\u200520Newsgroup\u2003\u2005(10%", "Train)"], "anchor": "start", "dx": -37, "lineHeight": 38},
 "layer": [
  {"mark": {"type": "line", "clip": true},
   "encoding": {
    "x": {"field": "x", "type": "quantitative", "scale": {"domain": [0, 1], "nice": false}, "axis": {"orient": "bottom", "values": [0,0.1,0.2,0.3,0.4,0.5,0.6,0.7,0.8,0.9,1], "format": ".1~f", "title": "α/(1+α)"}},
    "y": {"field": "v", "type": "quantitative", "scale": {"domain": [20, 30], "nice": false, "zero": false}, "axis": {"orient": "left", "values": [20,22,24,26,28,30], "format": ".1~f", "title": "Error rate (%)"}},
    "color": {"field": "s", "type": "nominal", "scale": {"domain": ["SRDA","ULDA","IDR/QR"], "range": ["#000000","#0000ff","#ff00ff"]}, "legend": {"title": null}},
    "strokeWidth": {"field": "s", "type": "ordinal", "scale": {"domain": ["SRDA","ULDA","IDR/QR"], "range": [1, 1.5, 1.5]}, "legend": null}
   }},
  {"transform": [{"filter": "datum.s === 'SRDA' && datum.v >= 20 && datum.v <= 30"}],
   "mark": {"type": "point", "shape": "M-1,0L1,0M0,-1L0,1M-0.7,-0.7L0.7,0.7M-0.7,0.7L0.7,-0.7", "color": "#000000", "filled": false, "size": 52, "strokeWidth": 1},
   "encoding": {"x": {"field": "x", "type": "quantitative", "axis": {"orient": "top", "values": [0,0.1,0.2,0.3,0.4,0.5,0.6,0.7,0.8,0.9,1], "labels": false, "title": null}}, "y": {"field": "v", "type": "quantitative", "axis": {"orient": "right", "values": [20,22,24,26,28,30], "labels": false, "title": null}}}},
  {"transform": [{"filter": "datum.s === 'ULDA'"}],
   "mark": {"type": "point", "shape": "M0,-1L1,0.75L-1,0.75Z", "color": "#0000ff", "filled": false, "size": 52, "strokeWidth": 1},
   "encoding": {"x": {"field": "x", "type": "quantitative", "axis": null}, "y": {"field": "v", "type": "quantitative", "axis": null}}},
  {"transform": [{"filter": "datum.s === 'IDR/QR'"}],
   "mark": {"type": "point", "shape": "M-0.2,-0.2L0.2,-0.2L0.2,0.2L-0.2,0.2Z", "color": "#ff00ff", "filled": false, "size": 52, "strokeWidth": 1},
   "encoding": {"x": {"field": "x", "type": "quantitative", "axis": null}, "y": {"field": "v", "type": "quantitative", "axis": null}}},
  {"transform": [{"filter": "false"}],
   "mark": {"type": "point", "filled": false},
   "encoding": {"x": {"field": "x", "type": "quantitative", "axis": null}, "y": {"field": "v", "type": "quantitative", "axis": null},
    "color": {"field": "s", "type": "nominal", "legend": {"title": null}},
    "shape": {"field": "s", "type": "nominal", "scale": {"domain": ["SRDA","ULDA","IDR/QR"], "range": ["M-3.7,0L3.7,0M0,-0.7L0,0.7M-0.5,-0.5L0.5,0.5M-0.5,0.5L0.5,-0.5", "M-3.7,0L3.7,0M0,-0.7L0.7,0.55L-0.7,0.55Z", "M-3.7,0L3.7,0M-0.1,-0.1L0.1,-0.1L0.1,0.1L-0.1,0.1Z"]}, "legend": {"title": null}}}}
 ],
 "resolve": {"axis": {"x": "independent", "y": "independent"}}
}
]
}
